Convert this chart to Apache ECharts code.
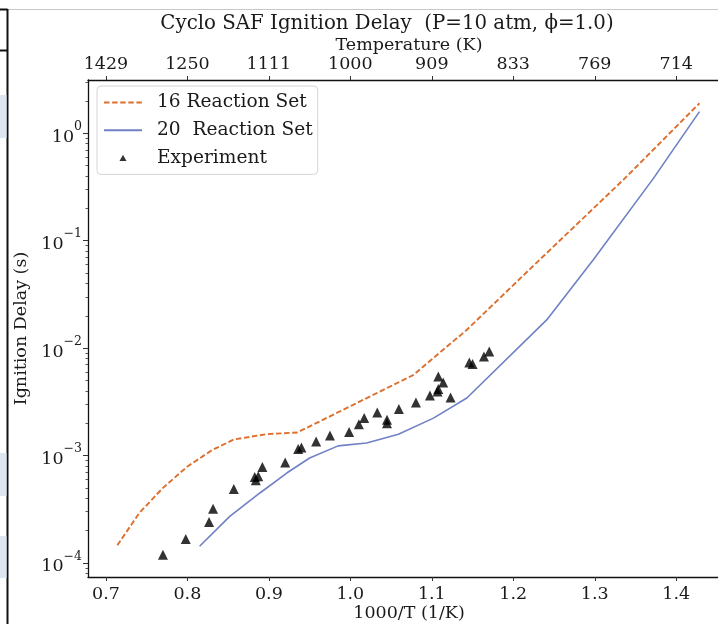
<!DOCTYPE html>
<html>
<head>
<meta charset="utf-8">
<script src="https://cdn.jsdelivr.net/npm/echarts@6/dist/echarts.min.js"></script>
<style>
html,body{margin:0;padding:0;background:#fff;overflow:hidden;}
#chart{width:718px;height:624px;}
</style>
</head>
<body>
<div id="chart"></div>
<script>
// ---- data (x = 1000/T in 1/K, y = ignition delay in s) ----
const set16X = [0.714, 0.741, 0.770, 0.800, 0.830, 0.857, 0.897, 0.935, 1.077, 1.143, 1.220, 1.335, 1.4285];
const set16Y = [1.46e-4, 2.92e-4, 5.0e-4, 7.9e-4, 1.12e-3, 1.41e-3, 1.58e-3, 1.64e-3, 5.6e-3, 1.48e-2, 5.4e-2, 0.368, 1.90];

const set20X = [0.815, 0.852, 0.889, 0.922, 0.950, 0.985, 1.020, 1.059, 1.102, 1.143, 1.241, 1.298, 1.372, 1.4285];
const set20Y = [1.43e-4, 2.71e-4, 4.48e-4, 6.87e-4, 9.48e-4, 1.23e-3, 1.31e-3, 1.58e-3, 2.23e-3, 3.43e-3, 1.83e-2, 6.62e-2, 0.38, 1.59];

const expX = [0.770, 0.798, 0.8266, 0.8315, 0.857, 0.8827, 0.884, 0.887, 0.892, 0.920, 0.936, 0.940, 0.958, 0.975, 0.9985,
              1.0105, 1.017, 1.033, 1.045, 1.045, 1.0596, 1.0805, 1.0977, 1.107, 1.108, 1.108, 1.114, 1.123, 1.146, 1.150, 1.164, 1.1705];
const expY = [1.19e-4, 1.67e-4, 2.40e-4, 3.20e-4, 4.88e-4, 6.3e-4, 5.9e-4, 6.4e-4, 7.8e-4, 8.6e-4, 1.15e-3, 1.19e-3, 1.35e-3, 1.54e-3, 1.66e-3,
              1.96e-3, 2.23e-3, 2.52e-3, 2.15e-3, 2.00e-3, 2.71e-3, 3.12e-3, 3.62e-3, 3.95e-3, 4.16e-3, 5.44e-3, 4.79e-3, 3.47e-3, 7.35e-3, 7.10e-3, 8.35e-3, 9.3e-3];

// ---- ticks ----
const xTicks = [0.7, 0.8, 0.9, 1.0, 1.1, 1.2, 1.3, 1.4];
const xTickLabels = ['0.7', '0.8', '0.9', '1.0', '1.1', '1.2', '1.3', '1.4'];
const tempTickLabels = ['1429', '1250', '1111', '1000', '909', '833', '769', '714'];
const yTicks = [1e-4, 1e-3, 1e-2, 1e-1, 1];
const yTickExponents = ['\u22124', '\u22123', '\u22122', '\u22121', '0'];

// minor log ticks 2..9 per decade
const yMinor = [];
for (let d = -5; d <= 0; d++) {
  for (let k = 2; k <= 9; k++) {
    const v = k * Math.pow(10, d);
    if (v > 7.4e-5 && v < 3.1) yMinor.push(v);
  }
}

const zip = (a, b) => a.map((v, i) => [v, b[i]]);
const FONT = 'DejaVu Serif';
const TXT = '#1a1a1a';
const ORANGE = '#dd6f2e';
const BLUE = '#7080c4';
const NOICON = {color: 'rgba(0,0,0,0)', borderColor: 'rgba(0,0,0,0)', borderWidth: 0};

const X_MIN = 0.678, X_MAX = 1.466;
const Y_MIN = 7.4e-5, Y_MAX = 3.13;

const chart = echarts.init(document.getElementById('chart'), null, {renderer: 'canvas'});
chart.setOption({
  backgroundColor: '#fff',
  animation: false,
  title: {
    text: 'Cyclo SAF Ignition Delay  (P=10 atm, \u03D5=1.0)',
    left: 382, top: 9, textAlign: 'center',
    textStyle: {fontFamily: FONT, fontSize: 19.8, fontWeight: 'normal', color: TXT}
  },
  grid: {left: 88, right: -12, top: 80, bottom: 47, containLabel: false, outerBoundsMode: 'none'},
  legend: {
    orient: 'vertical', left: 97, top: 86,
    padding: [7, 5, 7, 6],
    itemWidth: 38, itemHeight: 14, itemGap: 8.7,
    backgroundColor: 'rgba(255,255,255,0.85)',
    borderColor: '#d4d4d4', borderWidth: 1, borderRadius: 4,
    textStyle: {fontFamily: FONT, fontSize: 18.6, color: TXT, padding: [0, 0, 0, 10], lineHeight: 18},
    data: [
      {name: '16 Reaction Set', itemStyle: NOICON},
      {name: '20  Reaction Set', itemStyle: NOICON},
      {name: 'Experiment', icon: 'path://M0,0 M16,16 M8,4.5 L12,11.5 L4,11.5 Z', itemStyle: {color: '#000'}}
    ]
  },
  xAxis: [
    {
      type: 'value', position: 'bottom', min: X_MIN, max: X_MAX,
      name: '1000/T (1/K)', nameLocation: 'middle', nameGap: 27, nameMoveOverlap: false,
      nameTextStyle: {fontFamily: FONT, fontSize: 17.5, color: TXT},
      axisLine: {show: true, onZero: false, lineStyle: {color: '#111', width: 1.3}},
      axisTick: {show: true, customValues: xTicks, length: 4, lineStyle: {color: '#333'}},
      axisLabel: {customValues: xTicks, margin: 8, fontFamily: FONT, fontSize: 17.5, color: TXT,
        formatter: v => xTickLabels[xTicks.findIndex(t => Math.abs(t - v) < 1e-6)]},
      splitLine: {show: false}
    },
    {
      type: 'value', position: 'top', min: X_MIN, max: X_MAX,
      name: 'Temperature (K)', nameLocation: 'middle', nameGap: 26, nameMoveOverlap: false,
      nameTextStyle: {fontFamily: FONT, fontSize: 17.5, color: TXT},
      axisLine: {show: true, onZero: false, lineStyle: {color: '#111', width: 1.3}},
      axisTick: {show: true, customValues: xTicks, length: 4, lineStyle: {color: '#333'}},
      axisLabel: {customValues: xTicks, margin: 7, fontFamily: FONT, fontSize: 17.5, color: TXT,
        formatter: v => tempTickLabels[xTicks.findIndex(t => Math.abs(t - v) < 1e-6)]},
      splitLine: {show: false}
    }
  ],
  yAxis: [
    {
      type: 'log', logBase: 10, min: Y_MIN, max: Y_MAX, position: 'left',
      name: 'Ignition Delay (s)', nameLocation: 'middle', nameGap: 58, nameRotate: 90,
      nameTextStyle: {fontFamily: FONT, fontSize: 17.5, color: TXT},
      axisLine: {show: true, onZero: false, lineStyle: {color: '#111', width: 1.3}},
      axisTick: {show: true, customValues: yTicks, length: 5, lineStyle: {color: '#333'}},
      axisLabel: {customValues: yTicks, margin: 6, color: TXT,
        formatter: v => {
          const i = yTicks.findIndex(t => Math.abs(Math.log10(t) - Math.log10(v)) < 1e-6);
          return i >= 0 ? '{b|10}{s|' + yTickExponents[i] + '}' : '';
        },
        rich: {
          b: {fontFamily: FONT, fontSize: 17.5, color: TXT, verticalAlign: 'bottom', lineHeight: 26},
          s: {fontFamily: FONT, fontSize: 12.5, color: TXT, verticalAlign: 'top', lineHeight: 26}
        }},
      splitLine: {show: false}
    },
    {
      type: 'log', logBase: 10, min: Y_MIN, max: Y_MAX, position: 'left', offset: 0,
      axisLine: {show: false, onZero: false},
      axisTick: {show: true, customValues: yMinor, length: 2.5, lineStyle: {color: '#555'}},
      axisLabel: {show: false},
      splitLine: {show: false}
    }
  ],
  series: [
    {
      name: '16 Reaction Set', type: 'line', data: zip(set16X, set16Y),
      showSymbol: false, symbol: 'none', color: ORANGE,
      lineStyle: {color: ORANGE, width: 1.9, type: [5.5, 2.6]}
    },
    {
      name: '20  Reaction Set', type: 'line', data: zip(set20X, set20Y),
      showSymbol: false, symbol: 'none', color: BLUE,
      lineStyle: {color: BLUE, width: 1.6}
    },
    {
      name: 'Experiment', type: 'scatter', data: zip(expX, expY),
      symbol: 'triangle', symbolSize: 10, itemStyle: {color: '#000'}, z: 5
    }
  ],
  graphic: [
    {type: 'line', shape: {x1: 8, y1: 9.5, x2: 718, y2: 9.5}, style: {stroke: '#c8c8c8', lineWidth: 1}, silent: true},
    {type: 'line', shape: {x1: 7.5, y1: 9, x2: 7.5, y2: 624}, style: {stroke: '#111', lineWidth: 2}, silent: true},
    {type: 'line', shape: {x1: 0, y1: 9.5, x2: 7.5, y2: 9.5}, style: {stroke: '#111', lineWidth: 2}, silent: true},
    {type: 'line', shape: {x1: 0, y1: 50.5, x2: 7.5, y2: 50.5}, style: {stroke: '#111', lineWidth: 2}, silent: true},
    {type: 'rect', shape: {x: 0, y: 95, width: 6.5, height: 43}, style: {fill: '#dde6f1'}, silent: true},
    {type: 'rect', shape: {x: 0, y: 453, width: 6.5, height: 43}, style: {fill: '#dde6f1'}, silent: true},
    {type: 'rect', shape: {x: 0, y: 536, width: 6.5, height: 42}, style: {fill: '#dde6f1'}, silent: true}
  ]
});
</script>
</body>
</html>
